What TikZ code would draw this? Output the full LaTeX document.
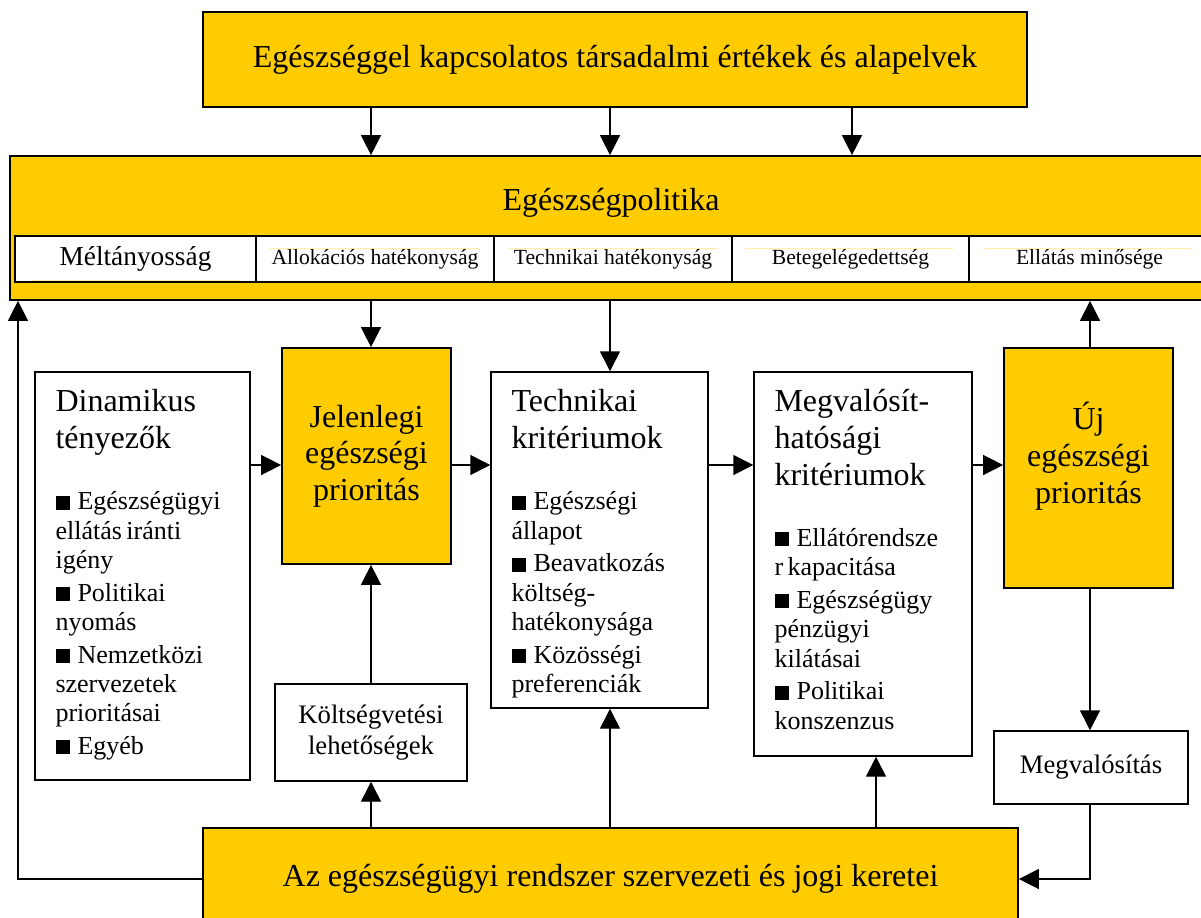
\documentclass[tikz,border=0pt]{standalone}
\usepackage{fontspec}
\setmainfont{Liberation Serif}
\usetikzlibrary{arrows.meta}
\definecolor{gold}{HTML}{FFCC00}
\definecolor{paleline}{HTML}{FFEFA8}
\tikzstyle{yellowbox} = [rectangle, draw=black, line width=1.3pt, fill=gold, align=center]
\tikzstyle{whitebox} = [rectangle, draw=black, line width=1.1pt, fill=white, align=center]
\tikzstyle{cell} = [rectangle, draw=black, line width=1.5pt, fill=white, minimum height=34.5pt, font=\fontsize{16.2}{19}\selectfont]
\tikzstyle{listtext} = [anchor=north west, inner sep=0pt, align=left, text width=142pt]
\tikzstyle{arrow} = [line width=1.1pt, -{Triangle[length=15pt, width=15pt]}]
\newcommand{\headfont}{\fontsize{24}{27.5}\selectfont}
\newcommand{\listfont}{\fontsize{19.5}{22}\selectfont}
\newcommand{\bitem}[1]{\par\vspace{2.5pt}\hangindent=16.5pt\hangafter=1\noindent\makebox[16.5pt][l]{\rule{10.5pt}{10.5pt}}#1}

\begin{document}
\begin{tikzpicture}[x=0.75pt, y=-0.75pt]
	\useasboundingbox (0,0) rectangle (1201,917);
	
	\node (top) [yellowbox, minimum width=618pt, minimum height=71.25pt, font=\fontsize{24}{28}\selectfont] at (615,59.5) {Egészséggel kapcsolatos társadalmi értékek és alapelvek};
	\node (pol) [yellowbox, minimum width=900pt, minimum height=108pt] at (610,228) {};
	\node (poltxt) [font=\fontsize{24}{28}\selectfont] at (611,203) {Egészségpolitika};
	
	\node (c1) [cell, minimum width=180.75pt, font=\fontsize{20.5}{23}\selectfont] at (135.5,259) {Méltányosság};
	\node (c2) [cell, minimum width=178.5pt] at (375,259) {Allokációs hatékonyság};
	\node (c3) [cell, minimum width=178.5pt] at (613,259) {Technikai hatékonyság};
	\node (c4) [cell, minimum width=177.75pt] at (850.5,259) {Betegelégedettség};
	\node (c5) [cell, minimum width=180.75pt] at (1089.5,259) {Ellátás minősége};
	
	\draw [paleline, line width=0.6pt] (31,280) -- (240,280);
	\draw [paleline, line width=0.6pt] (270,248) -- (479,248);
	\draw [paleline, line width=0.6pt] (509,248) -- (718,248);
	\draw [paleline, line width=0.6pt] (745,248) -- (954,248);
	\draw [paleline, line width=0.6pt] (983,248) -- (1192,248);
	
	\node (dyn) [whitebox, minimum width=161.25pt, minimum height=306pt] at (142.5,576) {};
	\node (dyntxt) [listtext, text width=145pt] at ([shift={(21,18)}]dyn.north west) {%
		{\headfont\noindent Dinamikus\\tényezők\par}
		\vspace{21.5pt}
		{\listfont
		\bitem{Egészségügyi\\ellátás iránti\\igény}
		\bitem{Politikai\\nyomás}
		\bitem{Nemzetközi\\szervezetek\\prioritásai}
		\bitem{Egyéb}\par}};
	
	\node (cur) [yellowbox, minimum width=126.75pt, minimum height=162pt, font=\headfont] at (366.5,456) {Jelenlegi\\egészségi\\prioritás};
	
	\node (tech) [whitebox, minimum width=162.75pt, minimum height=252pt] at (599.5,540) {};
	\node (techtxt) [listtext, text width=150pt] at ([shift={(21,18)}]tech.north west) {%
		{\headfont\noindent Technikai\\kritériumok\par}
		\vspace{21.5pt}
		{\listfont
		\bitem{Egészségi\\állapot}
		\bitem{Beavatkozás\\költség-\\hatékonysága}
		\bitem{Közösségi\\preferenciák}\par}};
	
	\node (feas) [whitebox, minimum width=163.5pt, minimum height=288pt] at (863,564) {};
	\node (feastxt) [listtext, text width=150pt] at ([shift={(21,18)}]feas.north west) {%
		{\headfont\noindent Megvalósít-\\hatósági\\kritériumok\par}
		\vspace{21.5pt}
		{\listfont
		\bitem{Ellátórendsze\\r kapacitása}
		\bitem{Egészségügy\\pénzügyi\\kilátásai}
		\bitem{Politikai\\konszenzus}\par}};
	
	\node (new) [yellowbox, minimum width=126.75pt, minimum height=180pt, text depth=23pt, font=\headfont] at (1088.5,468) {Új\\egészségi\\prioritás};
	
	\node (budget) [whitebox, minimum width=144pt, minimum height=72.75pt, font=\fontsize{20}{23}\selectfont] at (371,732.5) {Költségvetési\\lehetőségek};
	\node (impl) [whitebox, minimum width=145.5pt, minimum height=54.75pt, font=\fontsize{20}{23}\selectfont] at (1091,767.5) {Megvalósítás};
	\node (base) [yellowbox, minimum width=611.25pt, minimum height=76.5pt, font=\fontsize{24}{28}\selectfont] at (610.5,879) {Az egészségügyi rendszer szervezeti és jogi keretei};
	
	% oszlopok es sor a nyilakhoz
	\coordinate (colA) at (371,0);
	\coordinate (colB) at (610,0);
	\coordinate (colC) at (852,0);
	\coordinate (colD) at (876,0);
	\coordinate (colE) at (1090,0);
	\coordinate (colL) at (18,0);
	\coordinate (row) at (0,465);
	
				\draw [arrow] (top.south -| colA) -- (pol.north -| colA);
				\draw [arrow] (top.south -| colB) -- (pol.north -| colB);
				\draw [arrow] (top.south -| colC) -- (pol.north -| colC);
				\draw [arrow] (pol.south -| colA) -- (cur.north -| colA);
				\draw [arrow] (pol.south -| colB) -- (tech.north -| colB);
				\draw [arrow] (new.north -| colE) -- (pol.south -| colE);
				\draw [arrow] (dyn.east |- row) -- (cur.west |- row);
				\draw [arrow] (cur.east |- row) -- (tech.west |- row);
				\draw [arrow] (tech.east |- row) -- (feas.west |- row);
				\draw [arrow] (feas.east |- row) -- (new.west |- row);
				\draw [arrow] (budget.north -| colA) -- (cur.south -| colA);
				\draw [arrow] (base.north -| colA) -- (budget.south -| colA);
				\draw [arrow] (base.north -| colB) -- (tech.south -| colB);
				\draw [arrow] (base.north -| colD) -- (feas.south -| colD);
				\draw [arrow] (new.south -| colE) -- (impl.north -| colE);
				\draw [arrow] (impl.south -| colE) |- (base.east);
				\draw [arrow] (base.west) -| (pol.south -| colL);
\end{tikzpicture}
\end{document}
